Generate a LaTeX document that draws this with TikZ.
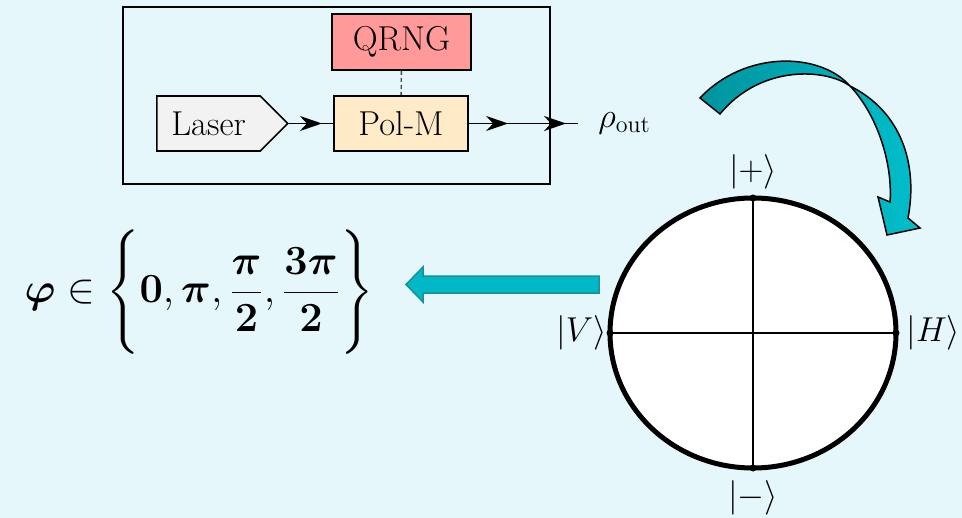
\documentclass[tikz,border=0pt]{standalone}
\usepackage{amsmath}
\usepackage{bm}
\usetikzlibrary{
  arrows.meta,
  decorations.markings,
  positioning,
  shapes.geometric,
  shapes.symbols
}
\definecolor{polInk}{HTML}{000000}
\definecolor{polBg}{HTML}{E5F7FA}
\definecolor{polRose}{HTML}{FF999A}
\definecolor{polCream}{HTML}{FFEBC8}
\definecolor{polGrey}{HTML}{F2F2F2}
\definecolor{polTeal}{HTML}{00B8C6}
\definecolor{polTealEdge}{HTML}{18919C}
\definecolor{polDeep}{HTML}{00949F}
\definecolor{polBright}{HTML}{00BFCB}
\definecolor{polDash}{HTML}{3F4A4F}
\tikzset{
  every node/.style={font=\LARGE, text=polInk},
  frame/.style={draw=polInk, line width=1pt, inner sep=0pt},
  block/.style={
    draw=polInk,
    line width=0.8pt,
    minimum height=27.5pt,
    inner sep=0pt
  },
  source/.style={
    block,
    signal,
    signal to=east,
    signal pointer angle=90,
    fill=polGrey
  },
  beam/.style={draw=polInk, line width=0.8pt},
  tip at/.style={
    postaction={decorate, decoration={markings,
      mark=at position #1 with {\arrow{Stealth[length=11pt,width=7.5pt,inset=3.5pt]}}}}
  },
  control/.style={draw=polDash, line width=0.7pt, dash pattern=on 2pt off 1.5pt},
  sphere/.style={
    ellipse,
    draw=polInk,
    line width=2.5pt,
    fill=white,
    minimum width=143pt,
    minimum height=135pt,
    inner sep=0pt,
    outer sep=0pt
  },
  axisline/.style={draw=polInk, line width=1pt},
  ket/.style={inner sep=0pt},
  flow/.style={fill=polTeal, draw=polTealEdge, line width=0.75pt, line join=miter},
  turn/.style={left color=polDeep, right color=polBright, draw=polInk, line width=0.75pt}
}

\begin{document}
\begin{tikzpicture}[x=0.5pt, y=-0.5pt]
  \fill[polBg] (0,0) rectangle (962,518);
  \useasboundingbox (0,0) rectangle (962,518);

  % transmitter
  \node[frame, minimum width=213.5pt, minimum height=88.5pt] (setup) at (336.5,95.5) {};
  \node[block, fill=polRose, minimum width=69.5pt, minimum height=28pt] (qrng) at (401.5,42) {QRNG};
  \node[block, fill=polCream, minimum width=67pt] (polm) at (401,123.5) {Pol-M};
  \node[source, minimum width=65.5pt, anchor=west] (laser) at (156,123.5) {Laser};
  \coordinate (out) at (578,123.5);
  \node[right=10pt of out, inner sep=0pt] (rho) {$\rho_{\text{out}}$};

  \draw[control] (qrng) -- (polm);
  \draw[beam, tip at=0.745] (laser.east) -- (polm.west);
  \draw[beam, tip at=0.36, tip at=0.89] (polm.east) -- (out);

  % polarisation circle
  \node[sphere] (bloch) at (753,333) {};
  \draw[axisline] (bloch.north) -- (bloch.south);
  \draw[axisline] (bloch.west) -- (bloch.east);
  \foreach \a in {north,south,east,west}
    \fill[polInk] (bloch.\a) circle (1.75pt);
  \node[ket, above=4pt of bloch.north] (plus) {$|+\rangle$};
  \node[ket, below=6pt of bloch.south] (minus) {$|-\rangle$};
  \node[ket, left=1.5pt of bloch.west] (vert) {$|V\rangle$};
  \node[ket, right=5pt of bloch.east] (horz) {$|H\rangle$};

  % phase set
  \node[font=\huge] (phases) at (199,292.5)
    {$\displaystyle \bm{\varphi} \in \left\{ \mathbf{0}, \bm{\pi},
      \frac{\bm{\pi}}{\mathbf{2}}, \frac{\mathbf{3}\bm{\pi}}{\mathbf{2}}
      \rule[-24pt]{0pt}{48pt} \right\}$};

  % block arrows
  \draw[flow] (599,276) -- (423,276) -- (423,267) -- (406,284.5)
    -- (423,302) -- (423,293) -- (599,293) -- cycle;
  \draw[turn] (700,98) .. controls (745,50) and (820,52) .. (850,86)
    .. controls (875,112) and (893,160) .. (890,202)
    -- (878,197) -- (887,235) -- (920,228) -- (908,218)
    .. controls (918,165) and (902,112) .. (850,86)
    .. controls (825,68) and (760,65) .. (720,114) -- cycle;
\end{tikzpicture}
\end{document}
